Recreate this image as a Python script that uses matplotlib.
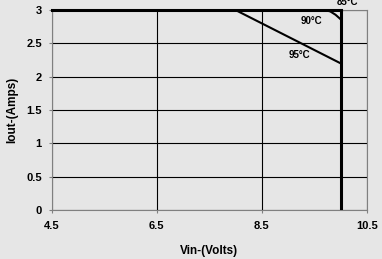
import matplotlib.pyplot as plt

plt.rcParams['font.family'] = ['Liberation Sans', 'DejaVu Sans']
plt.rcParams['font.weight'] = 'bold'

# curves (Vin, Iout)
vin_85 = [4.5, 10.0]
iout_85 = [3.0, 3.0]
vin_90 = [9.7, 9.8, 9.9, 10.0]
iout_90 = [3.0, 2.98, 2.93, 2.86]
vin_95 = [8.0, 10.0]
iout_95 = [3.0, 2.2]
vin_lim = [10.0, 10.0]
iout_lim = [0.0, 3.0]

xticks = [4.5, 6.5, 8.5, 10.5]
yticks = [0, 0.5, 1, 1.5, 2, 2.5, 3]
ytick_labels = ['0', '0.5', '1', '1.5', '2', '2.5', '3']

bg = '#e6e6e6'
fig = plt.figure(figsize=(3.82, 2.59), dpi=100, facecolor=bg)
ax = fig.add_axes([0.135, 0.189, 0.826, 0.772], facecolor=bg)

ax.plot(vin_85, iout_85, color='black', lw=2.2, clip_on=False, zorder=3)
ax.plot(vin_90, iout_90, color='black', lw=1.5, zorder=3)
ax.plot(vin_95, iout_95, color='black', lw=1.5, zorder=3)
ax.plot(vin_lim, iout_lim, color='black', lw=2.2, zorder=3)

ax.text(10.13, 3.075, '85°C', fontsize=7, ha='center', va='baseline', clip_on=False)
ax.text(9.45, 2.835, '90°C', fontsize=7, ha='center', va='center')
ax.text(9.21, 2.325, '95°C', fontsize=7, ha='center', va='center')

ax.set_xlim(4.5, 10.5)
ax.set_ylim(0, 3)
ax.set_xticks(xticks)
ax.set_xticklabels([str(t) for t in xticks])
ax.set_yticks(yticks)
ax.set_yticklabels(ytick_labels)
ax.tick_params(labelsize=8, length=2, width=0.8, color='#808080')
ax.tick_params(axis='x', pad=6)
ax.tick_params(axis='y', pad=5)
ax.grid(True, color='black', lw=0.8)
ax.set_axisbelow(True)
for s in ax.spines.values():
    s.set_color('#808080')
    s.set_linewidth(0.8)

ax.set_xlabel('Vin-(Volts)', fontsize=8.5, fontweight='bold', labelpad=10)
ax.set_ylabel('Iout-(Amps)', fontsize=8.5, fontweight='bold', labelpad=6)

fig.savefig('out.png', dpi=100, facecolor=bg)
